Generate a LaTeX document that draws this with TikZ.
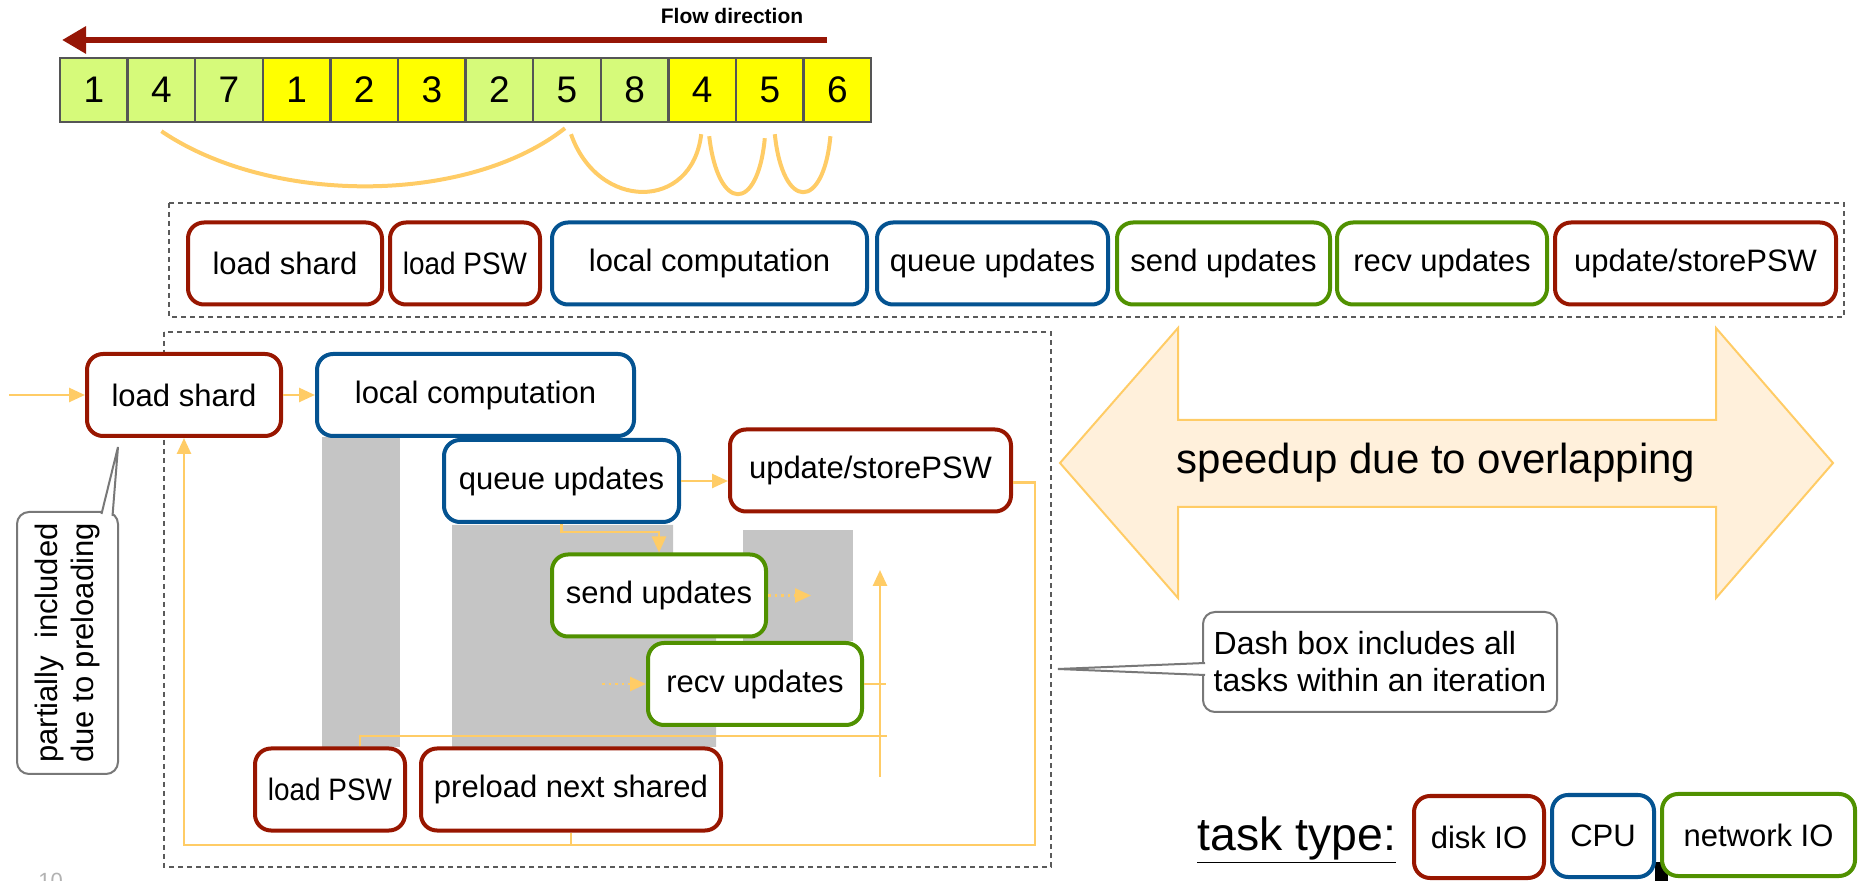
\documentclass[tikz,border=0pt]{standalone}
\usepackage{fontspec}
\setmainfont{Liberation Sans}
\usepackage{graphicx}
\usetikzlibrary{arrows.meta}
\definecolor{diskred}{RGB}{152,22,0}
\definecolor{cpublue}{RGB}{4,83,145}
\definecolor{netgreen}{RGB}{80,145,0}
\definecolor{flowred}{RGB}{150,22,6}
\definecolor{linkorange}{RGB}{255,204,102}
\definecolor{cellgreen}{RGB}{214,250,122}
\definecolor{cellyellow}{RGB}{255,255,0}
\definecolor{cellborder}{RGB}{85,85,85}
\definecolor{bargray}{RGB}{197,197,197}
\definecolor{boxgray}{RGB}{90,90,90}
\definecolor{calloutgray}{RGB}{120,120,120}
\definecolor{arrowfill}{RGB}{255,240,219}
\tikzset{
  task/.style={draw=#1, line width=2pt, rounded corners=8pt, fill=white,
    inner sep=2pt, minimum height=41pt, font=\fontsize{15.5}{18.6}\selectfont},
  disk/.style={task=diskred},
  cpu/.style={task=cpublue},
  net/.style={task=netgreen},
  cell/.style={draw=cellborder, line width=1.2pt, minimum width=33.8pt,
    minimum height=32pt, inner sep=0pt, font=\fontsize{18.5}{20}\selectfont},
  link/.style={draw=linkorange, line width=1.3pt, -{Triangle[length=8pt,width=7pt]}},
  plainlink/.style={draw=linkorange, line width=1.2pt},
  dotlink/.style={link, dotted},
  arcline/.style={draw=linkorange, line width=2pt},
  iterbox/.style={draw=boxgray, line width=1pt, dash pattern=on 2.5pt off 2pt},
  callout/.style={draw=calloutgray, line width=1pt, rounded corners=6pt, fill=white},
  calloutline/.style={draw=calloutgray, line width=1pt, fill=white},
  bar/.style={fill=bargray},
}
\begin{document}
\begin{tikzpicture}[x=0.5pt,y=-0.5pt]
\useasboundingbox (0,0) rectangle (1859,881);

% flow of shards
\node[font=\bfseries\fontsize{10.5}{12}\selectfont] (flowlbl) at (732,16) {Flow direction};
\coordinate (flowstart) at (827,40);
\coordinate (flowend) at (62,40);
\draw[flowred, line width=3pt, -{Triangle[length=12pt,width=13pt]}] (flowstart) -- (flowend);
\foreach \v/\c [count=\i] in {1/cellgreen,4/cellgreen,7/cellgreen,1/cellyellow,2/cellyellow,3/cellyellow,2/cellgreen,5/cellgreen,8/cellgreen,4/cellyellow,5/cellyellow,6/cellyellow}
  \node[cell, fill=\c] (c\i) at ({60+67.6*(\i-0.5)},90) {\v};
\draw[arcline] ([yshift=-4pt]c2.south) .. controls +(109,74) and +(-98,77) .. ([xshift=-1pt,yshift=-2.5pt]c8.south);
\draw[arcline] ([xshift=2pt,yshift=-5.5pt]c8.south) .. controls +(27,77) and +(-9,77) .. ([xshift=-0.5pt,yshift=-5.5pt]c10.south);
\draw[arcline] ([xshift=3.5pt,yshift=-6.5pt]c10.south) .. controls +(9,77) and +(-7,75) .. ([xshift=-2.5pt,yshift=-7.5pt]c11.south);
\draw[arcline] ([xshift=2.5pt,yshift=-5.5pt]c11.south) .. controls +(8,77) and +(-7,75) .. ([xshift=-3.5pt,yshift=-6.5pt]c12.south);

% sequential tasks
\draw[iterbox] (169,203) rectangle (1844,317);
\node[disk, minimum width=97pt] (t1) at (285,263.5) {load shard};
\node[disk, minimum width=75pt] (t2) at (465,263.5) {\scalebox{0.9}[1]{load PSW}};
\node[cpu, minimum width=157.5pt] (t3) at (709.5,263.5) {local computation};
\node[cpu, minimum width=115.5pt] (t4) at (992.5,263.5) {queue updates};
\node[net, minimum width=106.5pt] (t5) at (1223.5,263.5) {send updates};
\node[net, minimum width=105pt] (t6) at (1442,263.5) {recv updates};
\node[disk, minimum width=140.5pt] (t7) at (1695.5,263.5) {update/storePSW};

% overlapped tasks
\fill[bar] (322,437) rectangle (400,747);
\fill[bar] (452,525) -- (673,525) -- (673,600) -- (716,600) -- (716,747) -- (452,747) -- cycle;
\fill[bar] (743,530) rectangle (853,641);
\draw[iterbox] (164,332) rectangle (1051,867);

\node[disk, minimum width=97pt] (ls) at (184,395) {load shard};
\node[cpu, minimum width=158.5pt] (lc) at (475.5,395) {local computation};
\node[cpu, minimum width=117.5pt] (qu) at (561.5,481) {queue updates};
\node[disk, minimum width=140.5pt] (us) at (870.5,470.5) {update/storePSW};
\node[net, minimum width=107pt] (su) at (659,595.5) {send updates};
\node[net, minimum width=107pt] (ru) at (755,684) {recv updates};
\node[disk, minimum width=75pt] (lp) at (330,789.5) {\scalebox{0.9}[1]{load PSW}};
\node[disk, minimum width=150pt] (pn) at (571,789.5) {preload next shared};

\coordinate (in) at (9,395);
\coordinate (sendout) at (811,595.5);
\coordinate (recvin) at (602,684);
\coordinate (ruend) at (886,684);
\coordinate (vbot) at (880,777);
\coordinate (vtop) at (880,570);
\coordinate (lpend) at (887,736);
\coordinate (loopcorner) at (1035,845);
\draw[link] (in) -- (ls.west);
\draw[link] (ls.east) -- (lc.west);
\draw[link] (qu.east) -- (qu.east -| us.west);
\draw[link] (qu.south) -- ++(0,8) -| (su.north);
\draw[dotlink] (su.east) -- (sendout);
\draw[dotlink] (recvin) -- (ru.west);
\draw[plainlink] (ru.east) -- (ruend);
\draw[link] (vbot) -- (vtop);
\draw[plainlink] ([xshift=15pt]lp.north) |- (lpend);
\draw[link] ([yshift=-6pt]us.east) -| (loopcorner) -| (ls.south);
\draw[plainlink] (pn.south) -- (pn.south |- loopcorner);

% callouts
\node[callout, rotate=90, minimum width=131pt, minimum height=50.5pt, align=center,
  font=\fontsize{15.5}{18}\selectfont] (part) at (67.5,643) {partially\ \ included\\due to preloading};
\coordinate (parttip) at (118,447);
\draw[calloutline] ([xshift=17pt,yshift=-1.5pt]part.east) -- (parttip) -- ([xshift=22.5pt,yshift=-2.5pt]part.east);
\node[callout, minimum width=177pt, minimum height=50pt, align=left,
  font=\fontsize{16}{18.5}\selectfont] (dash) at (1380,662) {Dash box includes all\\tasks within an iteration};
\coordinate (dashtip) at (1058,669);
\draw[calloutline] ([xshift=1.5pt,yshift=-0.5pt]dash.west) -- (dashtip) -- ([xshift=1.5pt,yshift=-6.5pt]dash.west);

% speedup
\draw[linkorange, line width=1pt, fill=arrowfill] (1060,463) -- (1178,328) -- (1178,420) -- (1716,420) -- (1716,328)
  -- (1833,463) -- (1716,598) -- (1716,507) -- (1178,507) -- (1178,598) -- cycle;
\node[font=\fontsize{21}{25}\selectfont] (speed) at (1436,463) {speedup due to overlapping};

% legend
\node[anchor=base west, inner sep=0pt, font=\fontsize{23.2}{27}\selectfont] (tasktype) at (1197,850) {\underline{task type:}};
\fill[black] (1655,862) rectangle (1668,881);
\node[disk, minimum width=65pt] (kdisk) at (1479,837) {disk IO};
\node[cpu, minimum width=51pt] (kcpu) at (1603,836) {CPU};
\node[net, minimum width=96.5pt] (knet) at (1758.5,835) {network IO};

\node[anchor=north west, inner sep=0pt, text=gray!60, font=\fontsize{11}{13}\selectfont] (pagenum) at (38,873) {10};
\end{tikzpicture}
\end{document}
